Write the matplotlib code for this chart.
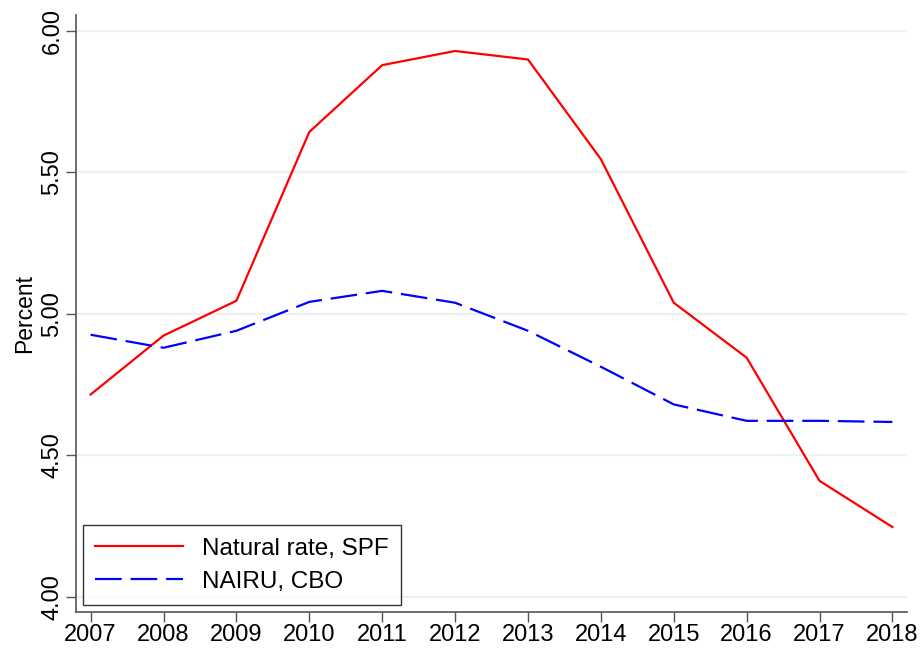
import numpy as np
import matplotlib
matplotlib.use("Agg")
import matplotlib.pyplot as plt

plt.rcParams['font.family'] = ['Liberation Sans', 'DejaVu Sans']

# data
years = [2007, 2008, 2009, 2010, 2011, 2012, 2013, 2014, 2015, 2016, 2017, 2018]
natural_rate_spf = [4.715, 4.923, 5.046, 5.642, 5.878, 5.928, 5.898, 5.546, 5.039, 4.845, 4.410, 4.247]
nairu_cbo = [4.926, 4.880, 4.940, 5.042, 5.081, 5.039, 4.940, 4.813, 4.680, 4.622, 4.622, 4.618]
y_ticks = [4.0, 4.5, 5.0, 5.5, 6.0]

fig = plt.figure(figsize=(9.24, 6.56), dpi=100)
ax = fig.add_axes([0.0823, 0.0671, 0.8993, 0.910])

# grid lines (stata style)
for yt in y_ticks:
    ax.axhline(yt, color='#eaf2f3', linewidth=1.6, zorder=0)

ax.plot(years, natural_rate_spf, color='red', linewidth=1.6, label='Natural rate, SPF', zorder=3)
ax.plot(years, nairu_cbo, color='blue', linewidth=1.6, linestyle=(0, (12, 4)),
        label='NAIRU, CBO', zorder=3)

ax.set_xlim(2006.8, 2018.2)
ax.set_ylim(3.947, 6.055)
ax.set_xticks(years)
ax.set_yticks(y_ticks)
ax.set_yticklabels([f'{v:.2f}' for v in y_ticks], rotation=90, va='center')
ax.set_ylabel('Percent', fontsize=16.5, labelpad=4)

for side in ['top', 'right']:
    ax.spines[side].set_visible(False)
for side in ['left', 'bottom']:
    ax.spines[side].set_color('#555555')
    ax.spines[side].set_linewidth(1.2)
ax.tick_params(axis='both', labelsize=17, length=7, width=1, color='#555555', pad=2)

leg = ax.legend(loc='lower left', fontsize=17.5, handlelength=3.6, frameon=True,
                fancybox=False, borderaxespad=0.3, borderpad=0.5, labelspacing=0.45)
leg.get_frame().set_edgecolor('black')
leg.get_frame().set_linewidth(1.0)

fig.savefig('out.png', dpi=100)
